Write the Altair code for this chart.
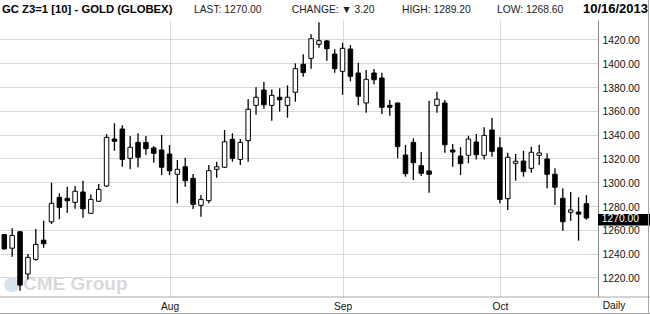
import altair as alt
import pandas as pd

# ---------------- data ----------------
symbol = "GC Z3=1 [10] - GOLD (GLOBEX)"
session_date = "10/16/2013"
period_label = "Daily"
brand = "CME Group"

opens = [1256.0, 1244.6, 1258.4, 1222.9, 1235.2, 1251.4, 1266.8, 1287.3, 1286.5, 1283.1,
         1291.8, 1273.9, 1284.0, 1296.8, 1336.3, 1344.7, 1320.1, 1333.5, 1333.5, 1328.8,
         1327.1, 1323.7, 1306.7, 1313.0, 1303.3, 1280.6, 1284.5, 1310.9, 1312.6, 1336.1,
         1319.2, 1334.9, 1364.6, 1377.5, 1364.6, 1371.4, 1364.6, 1375.6, 1399.1, 1404.1,
         1415.9, 1418.7, 1407.7, 1393.2, 1411.9, 1391.8, 1366.6, 1391.8, 1387.6, 1364.6,
         1366.6, 1322.9, 1333.5, 1313.9, 1309.5, 1364.6, 1366.6, 1327.1, 1322.0, 1322.6,
         1333.8, 1322.6, 1343.9, 1329.0, 1286.2, 1315.9, 1317.8, 1311.7, 1322.6, 1319.5,
         1306.7, 1286.5, 1274.8, 1275.0, 1282.0]
highs = [1256.5, 1261.3, 1259.0, 1239.7, 1260.7, 1267.7, 1299.6, 1290.7, 1296.2, 1296.8,
         1301.3, 1289.8, 1298.5, 1340.5, 1349.5, 1347.8, 1338.8, 1341.1, 1338.8, 1330.4,
         1339.7, 1331.3, 1318.7, 1320.6, 1306.9, 1289.3, 1314.5, 1317.3, 1343.9, 1341.1,
         1336.3, 1369.7, 1379.8, 1384.2, 1378.0, 1378.9, 1381.4, 1399.9, 1407.5, 1424.3,
         1434.4, 1419.5, 1411.7, 1417.2, 1415.3, 1400.4, 1394.3, 1395.1, 1392.0, 1369.1,
         1367.0, 1331.3, 1336.9, 1325.4, 1368.5, 1376.1, 1369.1, 1332.1, 1329.4, 1339.1,
         1340.5, 1346.2, 1354.0, 1337.8, 1324.8, 1323.7, 1326.5, 1329.9, 1331.5, 1324.3,
         1311.7, 1294.9, 1291.8, 1287.3, 1289.2]
lows = [1243.5, 1237.4, 1208.9, 1218.4, 1234.0, 1245.0, 1264.9, 1268.9, 1274.4, 1277.7,
        1270.2, 1273.5, 1283.5, 1296.0, 1326.5, 1313.0, 1310.9, 1312.6, 1323.1, 1316.4,
        1306.0, 1306.0, 1282.3, 1296.3, 1277.5, 1271.0, 1282.3, 1303.8, 1312.0, 1317.3,
        1314.5, 1317.3, 1356.8, 1361.8, 1351.7, 1359.3, 1354.2, 1367.7, 1388.7, 1395.4,
        1413.0, 1402.1, 1392.0, 1373.5, 1384.8, 1364.6, 1358.4, 1382.3, 1357.3, 1355.9,
        1320.1, 1304.7, 1301.9, 1305.3, 1291.2, 1358.4, 1324.8, 1313.0, 1306.0, 1316.0,
        1319.2, 1319.2, 1321.5, 1282.3, 1276.7, 1301.3, 1304.7, 1308.0, 1314.5, 1294.9,
        1280.8, 1259.3, 1267.7, 1250.9, 1268.6]
closes = [1244.0, 1255.2, 1213.6, 1236.9, 1247.8, 1248.3, 1282.3, 1278.9, 1284.5, 1292.4,
          1277.7, 1285.6, 1294.0, 1337.7, 1334.4, 1319.2, 1329.4, 1321.0, 1328.2, 1324.3,
          1312.6, 1309.7, 1310.9, 1301.3, 1281.4, 1285.6, 1309.7, 1313.0, 1334.0, 1320.1,
          1333.5, 1361.3, 1371.4, 1365.1, 1373.0, 1369.3, 1371.4, 1395.4, 1392.1, 1420.6,
          1418.9, 1412.2, 1395.4, 1412.5, 1389.0, 1372.2, 1386.5, 1386.1, 1363.0, 1363.0,
          1329.9, 1307.2, 1316.4, 1307.5, 1306.7, 1369.7, 1331.5, 1325.4, 1315.6, 1336.3,
          1323.1, 1339.4, 1326.0, 1285.6, 1321.0, 1317.6, 1308.9, 1325.2, 1324.6, 1306.7,
          1295.8, 1266.8, 1276.7, 1273.2, 1270.0]

month_pos = [21, 43, 63]          # bar index of the first session of each month
month_names = ["Aug", "Sep", "Oct"]
price_ticks = [1220, 1240, 1260, 1280, 1300, 1320, 1340, 1360, 1380, 1400, 1420]

# ---------------- tables ----------------
df = pd.DataFrame({
    "i": list(range(len(opens))),
    "open": opens, "high": highs, "low": lows, "close": closes,
})
df["dir"] = ["up" if c >= o else "down" for o, c in zip(opens, closes)]

last = closes[-1]
change = closes[-1] - closes[-2]
hdr_last = f"LAST: {last:.2f}"
hdr_change = f"CHANGE: {'▼' if change < 0 else '▲'} {abs(change):.2f}"
hdr_high = f"HIGH: {highs[-1]:.2f}"
hdr_low = f"LOW: {lows[-1]:.2f}"

FONT = "Liberation Sans, Arial, sans-serif"
W, H = 598, 277

label_expr = "".join(f"datum.value == {p} ? '{n}' : " for p, n in zip(month_pos, month_names)) + "''"

xscale = alt.Scale(domain=[0.0875, 74.8375], nice=False, zero=False)
yscale = alt.Scale(domain=[1203.6, 1436.3], nice=False, zero=False)

x_axis = alt.Axis(values=month_pos, labelExpr=label_expr, grid=True, gridColor="#d9d9d9",
                  gridWidth=1, domain=False, ticks=False, tickSize=0, labelFont=FONT,
                  labelFontSize=10.2, labelColor="#111111", labelPadding=9,
                  labelBaseline="middle", labelAngle=0, title=None)
y_axis = alt.Axis(orient="right", values=price_ticks, format=".2f", grid=True,
                  gridColor="#d9d9d9", gridWidth=1, domain=True, domainColor="#8a8a8a",
                  domainWidth=1, ticks=False, tickSize=0, labelFont=FONT,
                  labelFontSize=10.3, labelColor="#111111", labelPadding=4,
                  labelBaseline="middle", labelOffset=1, title=None)

x_enc = alt.X("i:Q", scale=xscale, axis=x_axis)

one = pd.DataFrame({"a": [0]})


def text_layer(s, x, y, **kw):
    return alt.Chart(pd.DataFrame({"t": [s]})).mark_text(**kw).encode(
        x=alt.value(x), y=alt.value(y), text="t:N")


def hline(x1, x2, y, color):
    return alt.Chart(one).mark_rule(color=color, strokeWidth=1).encode(
        x=alt.value(x1), x2=alt.value(x2), y=alt.value(y))


def vline(x, y1, y2, color):
    return alt.Chart(one).mark_rule(color=color, strokeWidth=1).encode(
        x=alt.value(x), y=alt.value(y1), y2=alt.value(y2))


# watermark
globe = alt.Chart(one).mark_circle(color="#d6e1ea", opacity=1, size=225).encode(
    x=alt.value(11.7), y=alt.value(264.8))
brand_txt = text_layer(brand, 23, 270, font=FONT, fontSize=19, fontWeight="bold",
                       color="#d9d9d9", align="left", baseline="alphabetic")

wicks = alt.Chart(df).mark_rule(color="black", strokeWidth=1.3, clip=True).encode(
    x=x_enc, y=alt.Y("low:Q", scale=yscale, axis=y_axis), y2="high:Q")

bodies = alt.Chart(df).mark_bar(size=4.5, stroke="black", strokeWidth=1, clip=True).encode(
    x=x_enc,
    y=alt.Y("open:Q", scale=yscale, axis=y_axis),
    y2="close:Q",
    fill=alt.Fill("dir:N", scale=alt.Scale(domain=["up", "down"], range=["#ffffff", "#000000"]),
                  legend=None),
)

tag_df = pd.DataFrame({"v": [last], "t": [f"{last:.2f}"]})
tag_rect = alt.Chart(tag_df).mark_rect(color="black", yOffset=-4, y2Offset=7.5).encode(
    x=alt.value(598), x2=alt.value(650),
    y=alt.Y("v:Q", scale=yscale, axis=y_axis), y2="v:Q")
tag_text = alt.Chart(tag_df).mark_text(align="left", baseline="middle", color="white",
                                       dy=1.5, font=FONT, fontSize=10.3).encode(
    x=alt.value(601.7), y=alt.Y("v:Q", scale=yscale, axis=y_axis), text="t:N")

# frame lines
bottom_axis = hline(0, 650, H, "#a8a8a8")
bottom_border = hline(0, 650, 293.5, "#a8a8a8")
right_border = vline(648.5, -20, 293.5, "#a8a8a8")

# header
hy = -7
h_title = text_layer(symbol, 2, hy, font=FONT, fontSize=11.3, fontWeight="bold",
                     color="#000000", align="left", baseline="alphabetic")
h_last = text_layer(hdr_last, 194, hy, font=FONT, fontSize=10.3, color="#222222",
                    align="left", baseline="alphabetic")
h_change = text_layer(hdr_change, 291.7, hy, font=FONT, fontSize=10.3, color="#222222",
                      align="left", baseline="alphabetic")
h_high = text_layer(hdr_high, 402, hy, font=FONT, fontSize=10.3, color="#222222",
                    align="left", baseline="alphabetic")
h_low = text_layer(hdr_low, 497, hy, font=FONT, fontSize=10.3, color="#222222",
                   align="left", baseline="alphabetic")
h_date = text_layer(session_date, 648, hy, font=FONT, fontSize=13, fontWeight="bold",
                    color="#000000", align="right", baseline="alphabetic")

daily = text_layer(period_label, 602.7, 286, font=FONT, fontSize=10.2, color="#111111",
                   align="left", baseline="middle")

chart = alt.layer(
    globe, brand_txt, wicks, bodies, tag_rect, tag_text,
    bottom_axis, bottom_border, right_border,
    h_title, h_last, h_change, h_high, h_low, h_date, daily,
).properties(
    width=W, height=H,
    autosize="none",
    padding={"left": 0, "top": 20, "right": 52, "bottom": 17},
    background="white",
).configure_view(stroke=None)

chart.save("out.html", embed_options={"renderer": "svg", "actions": False})
